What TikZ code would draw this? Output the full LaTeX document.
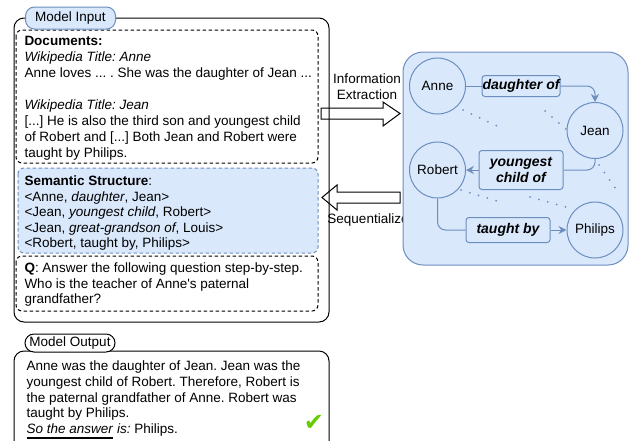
\documentclass[tikz,border=0pt]{standalone}
\usepackage{fontspec}
\setmainfont{Liberation Sans}
\newfontfamily\dejavu{DejaVu Sans}
\usetikzlibrary{arrows.meta}
\definecolor{bfill}{HTML}{DAE8FC}
\definecolor{bline}{HTML}{6C8EBF}
\definecolor{okgreen}{HTML}{66CC00}
\newsavebox\ulbox
\newcommand\thickul[1]{\sbox\ulbox{#1}\rlap{\rule[-5pt]{\wd\ulbox}{1.8pt}}\usebox\ulbox}
\frenchspacing
\begin{document}
\begin{tikzpicture}[x=1pt,y=-1pt,line width=1pt,
  txt/.style={anchor=north west,inner sep=0pt,align=left,font=\fontsize{13.5}{15.6}\selectfont},
  tab/.style={draw,rounded corners=9pt,inner sep=0pt,minimum width=90pt,font=\fontsize{13.5}{15}\selectfont},
  dbox/.style={draw,dash pattern=on 3.5pt off 2.5pt,rounded corners=6pt},
  ent/.style={circle,draw=bline,fill=bfill,minimum size=56pt,inner sep=0pt,font=\fontsize{13.5}{15}\selectfont},
  rel/.style={draw=bline,fill=bfill,rounded corners=3pt,inner sep=0pt,align=center,font=\fontsize{14}{16}\selectfont\bfseries\itshape},
  conn/.style={draw=bline,line width=1pt,rounded corners=8pt},
  tip/.style={-{Stealth[length=8pt,width=8pt]}},
  dots/.style={draw=bline,line width=2pt,line cap=round,dash pattern=on 0pt off 9.2pt},
  lbl/.style={inner sep=0pt,align=center,font=\fontsize{13.5}{16}\selectfont}]
\useasboundingbox (0,0) rectangle (631,440);
\clip (0,0) rectangle (631,440);

% block arrows (drawn first so the box line passes over them)
\draw[fill=white] (321,108) -- (383,108) -- (383,102) -- (400,113.5) -- (383,126) -- (383,119) -- (321,119) -- cycle;
\draw[fill=white] (400,192) -- (337,192) -- (337,185) -- (322,197.5) -- (337,210) -- (337,203) -- (400,203) -- cycle;
\node[lbl,anchor=north] (ie) at (367,73) {Information\\Extraction};
\node[lbl,anchor=base] (seq) at (368,223) {Sequentialize};

% model input
\draw[rounded corners=10pt] (14,18) rectangle (329,322);
\draw[dbox] (16,30) rectangle (318,163);
\draw[dbox,draw=bline,fill=bfill] (18,168) rectangle (318,253);
\draw[dbox] (16,256) rectangle (318,311);
\node[tab,fill=bfill,draw=bline,minimum height=22pt] (intab) at (70.5,18) {Model Input};

\node[txt,font=\fontsize{13.5}{16.1}\selectfont] (docs) at (24,35.5) {\textbf{Documents:}\\
\textit{Wikipedia Title: Anne}\\
Anne loves ... . She was the daughter of Jean ...\\
\mbox{}\\
\textit{Wikipedia Title: Jean}\\
{[}...] He is also the third son and youngest child\\
of Robert and [...] Both Jean and Robert were\\
taught by Philips.};

\node[txt,font=\fontsize{13.5}{15.5}\selectfont] (sem) at (24,175.5) {\textbf{Semantic Structure}:\\
<Anne, \textit{daughter}, Jean>\\
<Jean, \textit{youngest child}, Robert>\\
<Jean, \textit{great-grandson of}, Louis>\\
<Robert, taught by, Philips>};

\node[txt,font=\fontsize{13.5}{15.5}\selectfont] (q) at (24,262.5) {\textbf{Q}: Answer the following question step-by-step.\\
Who is the teacher of Anne\textquotesingle s paternal\\
grandfather?};

% model output
\draw[rounded corners=10pt] (14,351) rectangle (329,460);
\node[tab,fill=white,minimum height=18pt] (outtab) at (70,343) {Model Output};
\node[txt,font=\fontsize{13.5}{15.7}\selectfont] (out) at (26,360.5) {Anne was the daughter of Jean. Jean was the\\
youngest child of Robert. Therefore, Robert is\\
the paternal grandfather of Anne. Robert was\\
taught by Philips.\\
\thickul{\textit{So the answer}}\textit{ is:} Philips.};
\node[text=okgreen,inner sep=0pt,font=\dejavu\fontsize{24}{24}\selectfont] (check) at (314,423) {✔};

% graph
\draw[draw=bline,fill=bfill,rounded corners=20pt] (403,52) rectangle (628,265);
\node[ent] (anne) at (437.5,86) {Anne};
\node[ent] (jean) at (595,130.5) {Jean};
\node[ent] (robert) at (437.5,170) {Robert};
\node[ent] (philips) at (595,230) {Philips};
\node[rel,minimum width=78pt,minimum height=21pt] (daughter) at (521,86) {daughter of};
\node[rel,minimum width=84pt,minimum height=39pt] (youngest) at (521,170) {youngest\\child of};
\node[rel,minimum width=84pt,minimum height=25pt] (taught) at (508,230) {taught by};

\draw[conn] (anne.east) -- (daughter.west);
\draw[conn,tip] (daughter.east) -| (jean.north);
\draw[conn] (jean.south) |- (youngest.east);
\draw[conn,tip] (youngest.west) -- (robert.east);
\draw[conn] (robert.south) |- (taught.west);
\draw[conn,tip] (taught.east) -- (philips.west);

\draw[dots] (463,110) -- (497,126);
\draw[dots] (545,111) -- (566,129);
\draw[dots] (599,165) -- (616,189);
\draw[dots] (461,190) -- (497,201);
\draw[dots] (530,197) -- (573,209);
\end{tikzpicture}
\end{document}
